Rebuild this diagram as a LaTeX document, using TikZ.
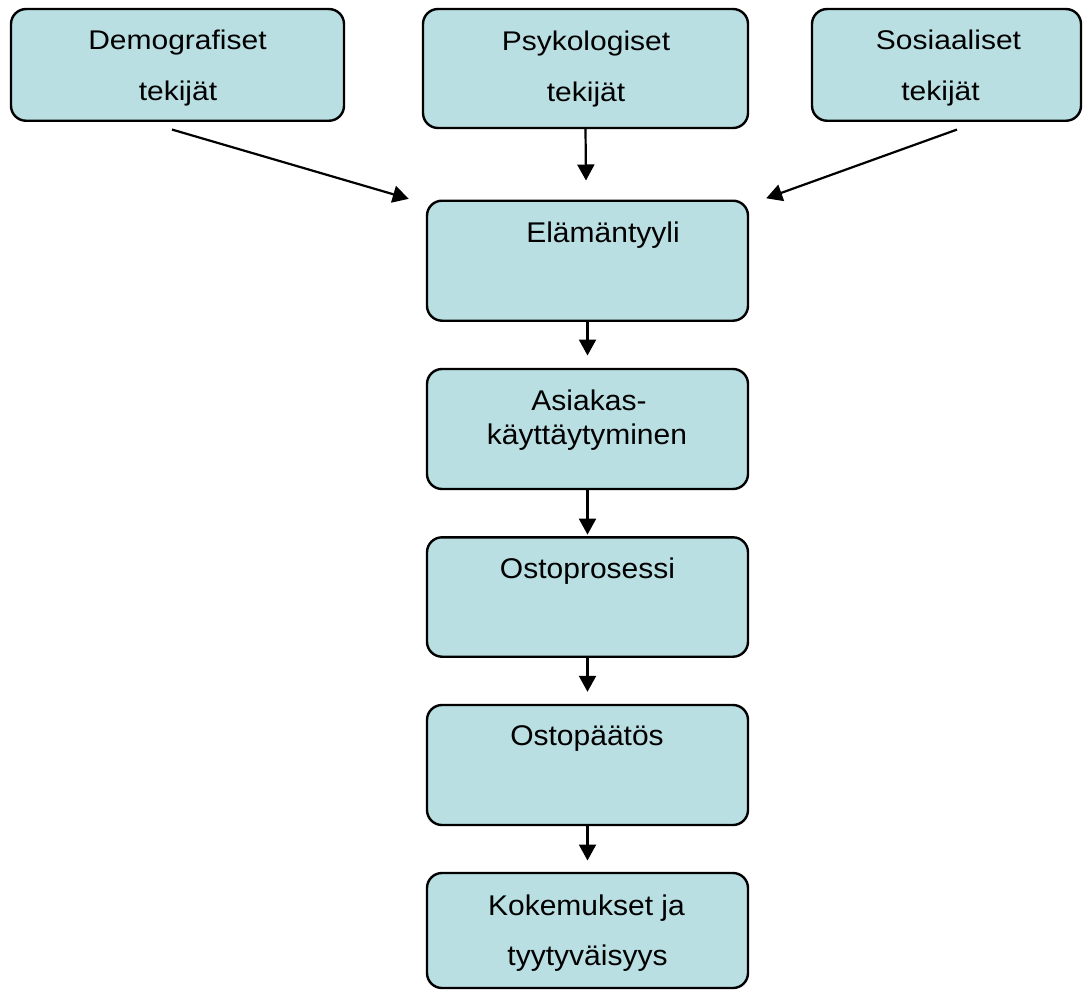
\documentclass[tikz,border=0pt]{standalone}
\usepackage{fontspec}
\setmainfont{Liberation Sans}
\usetikzlibrary{arrows.meta,calc}
\definecolor{boxfill}{HTML}{B9DFE3}
\begin{document}
\begin{tikzpicture}[x=1pt,y=-1pt,
  box/.style={draw=black, line width=2.4pt, fill=boxfill, rounded corners=15pt, inner sep=0pt, rectangle},
  lbl/.style={anchor=base, inner sep=0pt, font=\fontsize{30}{36}\selectfont},
  conn/.style={line width=2.2pt, -{Triangle[length=16pt,width=17pt]}}]
\useasboundingbox (0,0) rectangle (1084,990);

% boxes
\node[box, minimum width=333pt, minimum height=111.7pt] (demo) at (177.5,64.9) {};
\node[box, minimum width=325pt, minimum height=119pt] (psyk) at (585.5,68.5) {};
\node[box, minimum width=269pt, minimum height=111.7pt] (sos) at (946.5,64.9) {};
\node[box, minimum width=321pt, minimum height=120pt] (ela) at (587.5,260.7) {};
\node[box, minimum width=321pt, minimum height=120pt] (asi) at (587.5,429) {};
\node[box, minimum width=321pt, minimum height=119.4pt] (osto) at (587.5,597) {};
\node[box, minimum width=321pt, minimum height=120pt] (paat) at (587.5,765) {};
\node[box, minimum width=321pt, minimum height=115pt] (kok) at (587.5,930.5) {};

% texts
\node[lbl] (demo1) at (177.5,49.3) {\scalebox{1}[0.9]{Demografiset}};
\node[lbl] (demo2) at (178,100) {\scalebox{1}[0.9]{tekijät}};
\node[lbl] (psyk1) at (586,50.7) {\scalebox{1}[0.9]{Psykologiset}};
\node[lbl] (psyk2) at (586,101) {\scalebox{1}[0.9]{tekijät}};
\node[lbl] (sos1) at (948.5,50) {\scalebox{1}[0.9]{Sosiaaliset}};
\node[lbl] (sos2) at (940.5,100) {\scalebox{1}[0.9]{tekijät}};
\node[lbl] (ela1) at (603,242.3) {\scalebox{1}[0.95]{Elämäntyyli}};
\node[lbl] (asi1) at (589,410) {\scalebox{1}[0.95]{Asiakas-}};
\node[lbl] (asi2) at (587,444) {\scalebox{1}[0.95]{käyttäytyminen}};
\node[lbl] (osto1) at (587.5,578) {\scalebox{1}[0.95]{Ostoprosessi}};
\node[lbl] (paat1) at (587,745) {\scalebox{1}[0.95]{Ostopäätös}};
\node[lbl] (kok1) at (586.5,915) {\scalebox{1}[0.95]{Kokemukset ja}};
\node[lbl] (kok2) at (587.5,965) {\scalebox{1}[0.95]{tyytyväisyys}};

% connectors
\draw[conn] ($(demo.south)+(-5.5,7.6)$) -- ($(ela.north west)+(-17,-0.7)$);
\draw[conn] (psyk.south) -- ($(ela.north)+(-1.5,-19)$);
\draw[conn] ($(sos.south)+(10.5,7.6)$) -- ($(ela.north east)+(17,-1.2)$);
\draw[conn, shorten >=12.3pt] (ela.south) -- (asi.north);
\draw[conn, shorten >=1.5pt] (asi.south) -- (osto.north);
\draw[conn, shorten >=12pt] (osto.south) -- (paat.north);
\draw[conn, shorten >=11.3pt] (paat.south) -- (kok.north);
\end{tikzpicture}
\end{document}
